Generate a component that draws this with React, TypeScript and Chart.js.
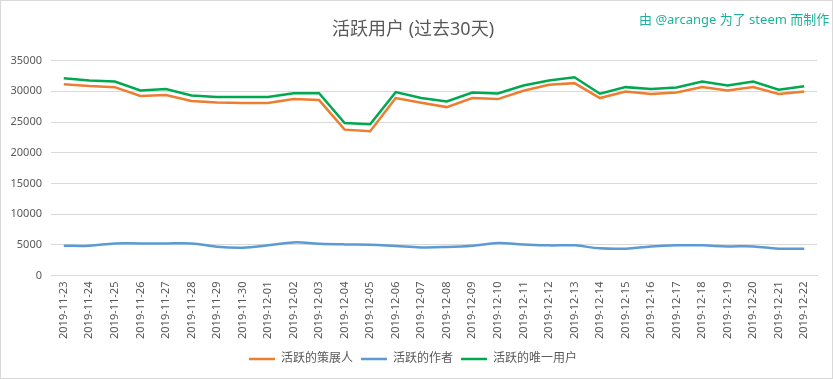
import React, { useEffect, useRef } from "react";
import { Chart, registerables } from "chart.js";

Chart.register(...registerables);

const categories = [
  "2019-11-23", "2019-11-24", "2019-11-25", "2019-11-26", "2019-11-27", "2019-11-28",
  "2019-11-29", "2019-11-30", "2019-12-01", "2019-12-02", "2019-12-03", "2019-12-04",
  "2019-12-05", "2019-12-06", "2019-12-07", "2019-12-08", "2019-12-09", "2019-12-10",
  "2019-12-11", "2019-12-12", "2019-12-13", "2019-12-14", "2019-12-15", "2019-12-16",
  "2019-12-17", "2019-12-18", "2019-12-19", "2019-12-20", "2019-12-21", "2019-12-22",
];

const curators = [
  31150, 30850, 30680, 29230, 29380, 28410, 28190, 28080, 28080, 28730,
  28570, 23760, 23490, 28900, 28150, 27430, 28900, 28730, 30080, 31060,
  31330, 28900, 29980, 29550, 29810, 30680, 30140, 30680, 29550, 29980,
];

const authors = [
  4860, 4860, 5240, 5240, 5240, 5240, 4700, 4540, 4920, 5400,
  5190, 5080, 5030, 4810, 4590, 4650, 4860, 5300, 5080, 4920,
  4920, 4430, 4380, 4750, 4920, 4920, 4750, 4750, 4380, 4380,
];

const uniqueUsers = [
  32130, 31760, 31600, 30140, 30360, 29330, 29060, 29060, 29060, 29700,
  29700, 24840, 24630, 29870, 28900, 28360, 29800, 29650, 30950, 31760,
  32300, 29600, 30680, 30360, 30620, 31600, 30950, 31600, 30250, 30840,
];

const seriesNames = ["活跃的策展人", "活跃的作者", "活跃的唯一用户"];
const yTicks = [0, 5000, 10000, 15000, 20000, 25000, 30000, 35000];

const FONT = '"Noto Sans", "Noto Sans CJK SC", sans-serif';

export default function App() {
  const ref = useRef<HTMLCanvasElement | null>(null);

  useEffect(() => {
    document.body.style.margin = "0";
    const ctx = ref.current!.getContext("2d")!;
    const chart = new Chart(ctx, {
      type: "line",
      data: {
        labels: categories,
        datasets: [
          {
            label: seriesNames[0],
            data: curators,
            borderColor: "#ED7D31",
            backgroundColor: "#ED7D31",
            borderWidth: 2.5,
            pointRadius: 0,
            tension: 0,
          },
          {
            label: seriesNames[1],
            data: authors,
            borderColor: "#5B9BD5",
            backgroundColor: "#5B9BD5",
            borderWidth: 2.5,
            pointRadius: 0,
            tension: 0.4,
          },
          {
            label: seriesNames[2],
            data: uniqueUsers,
            borderColor: "#00A850",
            backgroundColor: "#00A850",
            borderWidth: 2.5,
            pointRadius: 0,
            tension: 0,
          },
        ],
      },
      options: {
        responsive: false,
        animation: false,
        layout: { padding: { left: 8, right: 15, top: 10, bottom: 3 } },
        plugins: {
          title: {
            display: true,
            text: "活跃用户 (过去30天)",
            color: "#595959",
            font: { family: FONT, size: 18, weight: "normal" },
            padding: { top: 8, bottom: 20 },
          },
          legend: {
            position: "bottom",
            labels: {
              color: "#595959",
              font: { family: FONT, size: 12 },
              usePointStyle: true,
              pointStyle: "line",
              pointStyleWidth: 26,
              boxHeight: 2,
              padding: 8,
            },
          },
          tooltip: { enabled: false },
        },
        scales: {
          x: {
            offset: true,
            grid: { display: false, drawTicks: false },
            border: { color: "#d9d9d9" },
            ticks: {
              color: "#595959",
              font: { family: FONT, size: 11 },
              minRotation: 90,
              maxRotation: 90,
              autoSkip: false,
              padding: 6,
            },
          },
          y: {
            min: 0,
            max: 35000,
            afterBuildTicks: (axis: any) => {
              axis.ticks = yTicks.map((v) => ({ value: v }));
            },
            afterFit: (axis: any) => {
              axis.width = 42;
            },
            grid: { color: "#d9d9d9", drawTicks: false },
            border: { display: false },
            ticks: {
              color: "#595959",
              font: { family: FONT, size: 11 },
              padding: 9,
              callback: (v: any) => String(v),
            },
          },
        },
      },
    });
    return () => chart.destroy();
  }, []);

  return (
    <div
      style={{
        position: "absolute",
        left: 0,
        top: 0,
        width: 833,
        height: 379,
        boxSizing: "border-box",
        border: "1px solid #d9d9d9",
        background: "#fff",
      }}
    >
      <canvas ref={ref} width={831} height={377} style={{ display: "block" }} />
      <div
        style={{
          position: "absolute",
          left: 638,
          top: 8,
          fontFamily: FONT,
          fontSize: 13,
          color: "#1DB39A",
          whiteSpace: "nowrap",
        }}
      >
        由 @arcange 为了 steem 而制作
      </div>
    </div>
  );
}
